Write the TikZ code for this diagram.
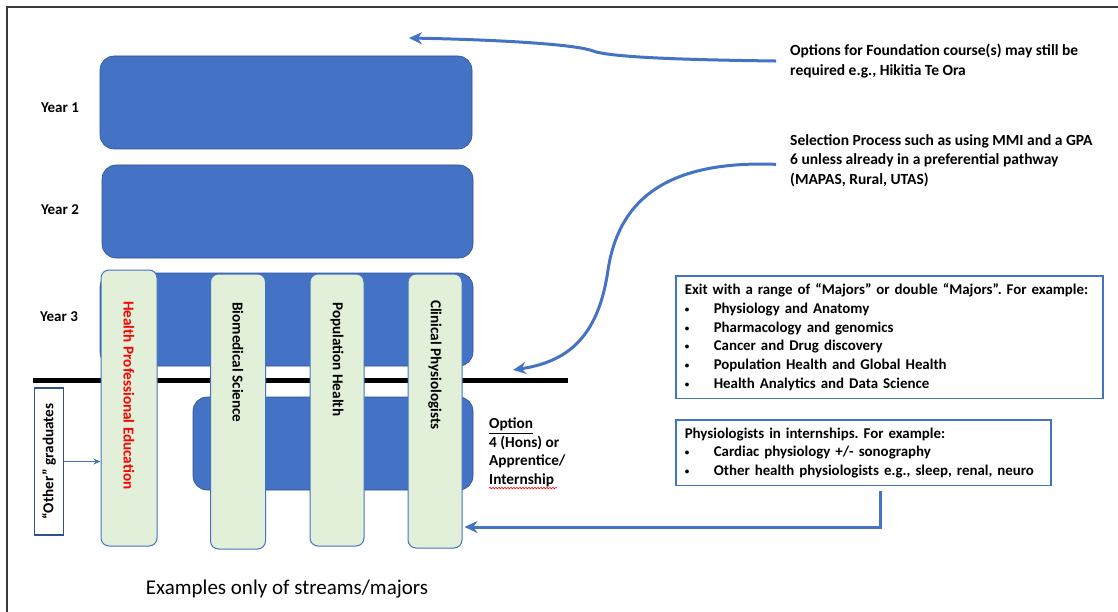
\documentclass[tikz,border=0pt]{standalone}
\usepackage{fontspec}
\setmainfont{Carlito}
\usetikzlibrary{positioning, arrows.meta, decorations.pathmorphing}

\definecolor{officeblue}{HTML}{4472C4}
\definecolor{darkblue}{HTML}{2F528F}
\definecolor{palegreen}{HTML}{E2F0D9}
\definecolor{framegrey}{HTML}{3A3A3A}

\begin{document}
\begin{tikzpicture}[x=1pt, y=-1pt]
\tikzstyle{yearbox} = [rectangle, rounded corners=14pt, fill=officeblue, draw=darkblue, line width=0.6pt, inner sep=0pt]
\tikzstyle{stream} = [rectangle, rounded corners=8pt, fill=palegreen, draw=officeblue, line width=1pt, inner sep=0pt]
\tikzstyle{streamtext} = [rotate=-90, anchor=west, inner sep=0pt, font=\fontsize{15.2}{18}\selectfont\bfseries]
\tikzstyle{yeartext} = [inner sep=0pt, font=\fontsize{15}{18}\selectfont\bfseries]
\tikzstyle{note} = [align=left, anchor=north west, inner sep=0pt, font=\fontsize{15.5}{19.5}\selectfont\bfseries]
\tikzstyle{listbox} = [draw=officeblue, line width=1.5pt, align=left, anchor=north west, inner xsep=9pt, font=\fontsize{14.9}{18.7}\selectfont\bfseries\frenchspacing]
\tikzstyle{edge} = [officeblue, line width=3pt, -{Stealth[length=13pt, width=12pt]}]
\newcommand{\itm}{\makebox[29pt][l]{\raisebox{1pt}{\fontsize{9}{9}\selectfont\textbullet}}}

\useasboundingbox (0,0) rectangle (1118,612);
\draw[framegrey, line width=2pt] (7,640) -- (7,7) -- (1140,7);

% Year blocks
\node[yearbox, minimum width=372pt, minimum height=93pt] (year1) at (286,102.5) {};
\node[yearbox, minimum width=371pt, minimum height=93pt] (year2) at (287.5,211.5) {};
\node[yearbox, minimum width=373pt, minimum height=93pt] (year3) at (286.5,319.5) {};
\node[yearbox, minimum width=280pt, minimum height=93pt] (year4) at (333,443.5) {};

\node[yeartext] (y1lab) at (60,108) {Year 1};
\node[yeartext] (y2lab) at (60,210) {Year 2};
\node[yeartext] (y3lab) at (59,317) {Year 3};

% Exit line
\draw[line width=5pt] (33,380) -- (568,380);

% Streams
\node[stream, minimum width=56pt, minimum height=276pt] (hpe) at (129,408) {};
\node[stream, minimum width=55pt, minimum height=275pt] (biomed) at (238,411.5) {};
\node[stream, minimum width=54pt, minimum height=272pt] (pophealth) at (337,410) {};
\node[stream, minimum width=54pt, minimum height=274pt] (clinphys) at (435,411) {};

\node[streamtext, text=red] (hpetext) at (129,301) {Health Professional Education};
\node[streamtext] (biomedtext) at (238,302) {Biomedical Science};
\node[streamtext] (poptext) at (337,302) {Population Health};
\node[streamtext] (clintext) at (435,300) {Clinical Physiologists};

% Other graduates
\node[rectangle, draw=darkblue, line width=1.5pt, minimum width=29pt, minimum height=147pt] (other) at (49,461.5) {};
\node[rotate=90, inner sep=0pt, font=\fontsize{15.2}{18}\selectfont\bfseries] (othertext) at (other.center) {“Other” graduates};
\draw[officeblue, line width=1.2pt, -{Stealth[length=7pt, width=6pt]}] (other.east) -- (other.east -| hpe.west);

% Option text
\node[note, font=\fontsize{15.3}{18.5}\selectfont\bfseries] (optnote) at (489,418) {\underline{Option}\\4 (Hons) or\\Apprentice/\\Internship};
\draw[red, line width=0.6pt, decorate, decoration={snake, amplitude=0.8pt, segment length=3pt}] ([yshift=-1pt]optnote.south west) -- ++(68,0);

% Notes on the right
\node[note] (foundnote) at (790,44) {Options for Foundation course(s) may still be\\required e.g., Hikitia Te Ora};
\node[note] (selnote) at (790,134) {Selection Process such as using MMI and a GPA\\6 unless already in a preferential pathway\\(MAPAS, Rural, UTAS)};

\node[listbox, inner ysep=8pt, text width=409pt] (exitnote) at (675,275) {\mbox{Exit with a range of “Majors” or double “Majors”. For example:}\\
\itm Physiology and Anatomy\\
\itm Pharmacology and genomics\\
\itm Cancer and Drug discovery\\
\itm Population Health and Global Health\\
\itm Health Analytics and Data Science};
\node[listbox, inner ysep=7.5pt, text width=357pt, below=20pt of exitnote.south west, anchor=north west] (physnote) {\mbox{Physiologists in internships. For example:}\\
\itm Cardiac physiology +/- sonography\\
\itm \mbox{Other health physiologists e.g., sleep, renal, neuro}};

% Arrows
\coordinate (foundtip) at (409,38);
\coordinate (seltip) at (513,370);
\draw[edge] ([xshift=-14pt]foundnote.west) .. controls (700,60) and (612,58) .. (593,51) .. controls (578,45) and (510,40) .. (foundtip);
\draw[edge] ([xshift=-14pt,yshift=-4pt]selnote.west) .. controls (660,160) and (618,205) .. (608,270) .. controls (598,340) and (565,362) .. (seltip);
\draw[edge] ([xshift=17pt,yshift=-5pt]physnote.south) |- ([yshift=-116pt,xshift=2pt]clinphys.east);

% Caption
\node[font=\fontsize{21}{24}\selectfont] (caption) at (287,589) {Examples only of streams/majors};

\end{tikzpicture}
\end{document}
